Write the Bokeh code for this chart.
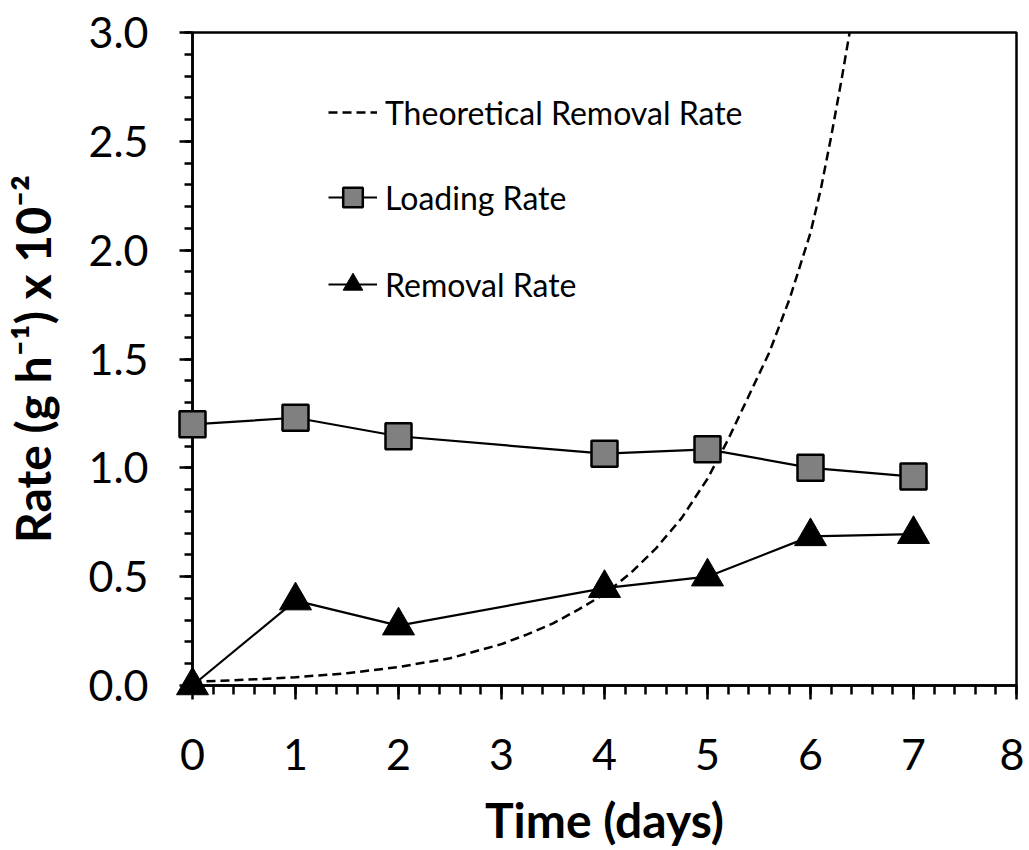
from bokeh.plotting import figure
from bokeh.models import Range1d, SingleIntervalTicker, Legend, LegendItem, NumeralTickFormatter
from bokeh.embed import file_html
from bokeh.resources import INLINE

# ---- data ----
days = [0, 1, 2, 4, 5, 6, 7]
loading_rate = [1.20, 1.23, 1.145, 1.065, 1.085, 1.00, 0.96]
removal_rate = [0.00, 0.39, 0.275, 0.447, 0.50, 0.685, 0.695]

theory_days = [0.0, 0.5, 1.0, 1.5, 2.0, 2.5, 3.0, 3.25, 3.5, 3.75, 4.0, 4.25,
               4.5, 4.75, 5.0, 5.2, 5.4, 5.6, 5.8, 6.0, 6.1, 6.2, 6.3, 6.38]
theory_rate = [0.017, 0.026, 0.038, 0.056, 0.085, 0.125, 0.19, 0.235, 0.285, 0.35, 0.42, 0.515,
               0.63, 0.77, 0.95, 1.13, 1.33, 1.53, 1.78, 2.08, 2.28, 2.52, 2.78, 3.0]

x_label = "Time (days)"
y_label = "Rate (g h\u207b\u00b9) x 10\u207b\u00b2"

FONT = "Lato"

p = figure(width=1024, height=850,
           x_range=Range1d(0, 8), y_range=Range1d(0, 3),
           output_backend="svg", toolbar_location=None,
           min_border_left=192, min_border_right=8,
           min_border_top=32, min_border_bottom=162)

p.xgrid.grid_line_color = None
p.ygrid.grid_line_color = None
p.outline_line_color = "black"
p.outline_line_width = 2.5
p.background_fill_color = "white"

# x axis
p.xaxis.ticker = SingleIntervalTicker(interval=1, num_minor_ticks=5)
p.xaxis.axis_line_width = 2.5
p.xaxis.major_tick_line_width = 2.5
p.xaxis.minor_tick_line_width = 2.5
p.xaxis.major_tick_in = 0
p.xaxis.major_tick_out = 14
p.xaxis.minor_tick_in = 0
p.xaxis.minor_tick_out = 9
p.xaxis.major_label_text_font = FONT
p.xaxis.major_label_text_font_size = "43px"
p.xaxis.major_label_text_color = "black"
p.xaxis.major_label_standoff = 39
p.xaxis.axis_label = x_label
p.xaxis.axis_label_text_font = FONT
p.xaxis.axis_label_text_font_style = "bold"
p.xaxis.axis_label_text_font_size = "48px"
p.xaxis.axis_label_text_color = "black"
p.xaxis.axis_label_standoff = 18

# y axis
p.yaxis.ticker = SingleIntervalTicker(interval=0.5, num_minor_ticks=5)
p.yaxis.formatter = NumeralTickFormatter(format="0.0")
p.yaxis.axis_line_width = 2.5
p.yaxis.major_tick_line_width = 2.5
p.yaxis.minor_tick_line_width = 2.5
p.yaxis.major_tick_in = 0
p.yaxis.major_tick_out = 13
p.yaxis.minor_tick_in = 0
p.yaxis.minor_tick_out = 8
p.yaxis.major_label_text_font = FONT
p.yaxis.major_label_text_font_size = "43px"
p.yaxis.major_label_text_color = "black"
p.yaxis.major_label_standoff = 31
p.yaxis.axis_label = y_label
p.yaxis.axis_label_text_font = FONT
p.yaxis.axis_label_text_font_style = "bold"
p.yaxis.axis_label_text_font_size = "48px"
p.yaxis.axis_label_text_color = "black"
p.yaxis.axis_label_standoff = 24

# series
r_theory = p.line(theory_days, theory_rate, line_color="black", line_width=2.5, line_dash="9 5")
r_load_line = p.line(days, loading_rate, line_color="black", line_width=2.2, level="overlay")
r_rem_line = p.line(days, removal_rate, line_color="black", line_width=2.2, level="overlay")
r_load_pts = p.scatter(days, loading_rate, marker="square", size=26,
                       fill_color="#808080", line_color="black", line_width=2.5, level="overlay")
r_rem_pts = p.scatter(days, removal_rate, marker="triangle", size=32,
                      fill_color="black", line_color="black", line_width=1, level="overlay")

def make_legend(label, renderers, loc):
    lg = Legend(items=[LegendItem(label=label, renderers=renderers)],
                location=loc, orientation="vertical",
                glyph_width=49, glyph_height=50, label_standoff=8,
                padding=0, margin=0, spacing=0,
                border_line_color=None, background_fill_alpha=0,
                label_text_font=FONT, label_text_font_size="32px",
                label_text_color="black", label_text_baseline="middle")
    p.add_layout(lg)

make_legend("Theoretical Removal Rate", [r_theory], (136, 548))
make_legend("Loading Rate", [r_load_line, r_load_pts], (136, 463))
make_legend("Removal Rate", [r_rem_line, r_rem_pts], (136, 376))

open("out.html", "w").write(file_html(p, INLINE))
